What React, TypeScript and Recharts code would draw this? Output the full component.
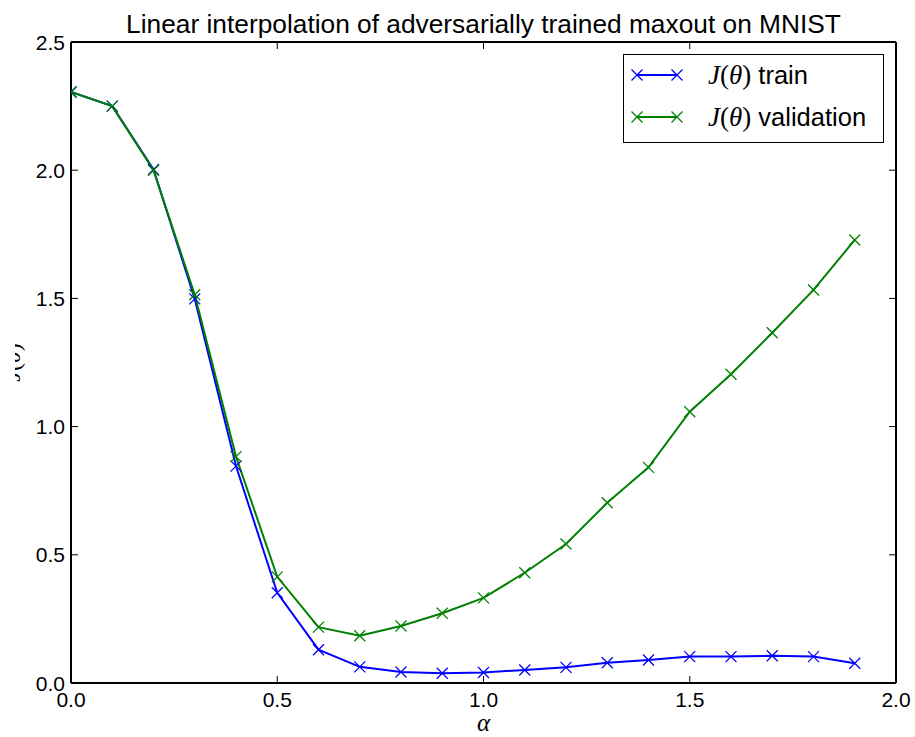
import React from 'react';
import { LineChart, Line, XAxis, YAxis, Legend, Label } from 'recharts';

const alphaValues = [0, 0.1, 0.2, 0.3, 0.4, 0.5, 0.6, 0.7, 0.8, 0.9, 1.0, 1.1, 1.2, 1.3, 1.4, 1.5, 1.6, 1.7, 1.8, 1.9];
const trainLoss = [2.305, 2.25, 2.003, 1.498, 0.846, 0.352, 0.13, 0.063, 0.043, 0.038, 0.041, 0.051, 0.061, 0.079, 0.09, 0.103, 0.103, 0.106, 0.103, 0.077];
const validationLoss = [2.305, 2.25, 2.0, 1.514, 0.883, 0.414, 0.218, 0.184, 0.222, 0.272, 0.332, 0.43, 0.542, 0.703, 0.841, 1.058, 1.204, 1.366, 1.533, 1.728];
const xTicks = [0, 0.5, 1.0, 1.5, 2.0];
const yTicks = [0, 0.5, 1.0, 1.5, 2.0, 2.5];
const seriesNames = ['train', 'validation'];
const seriesColors = ['#0000ff', '#008000'];
const titleText = 'Linear interpolation of adversarially trained maxout on MNIST';

const data = alphaValues.map((a, i) => ({ alpha: a, train: trainLoss[i], validation: validationLoss[i] }));

const SANS = '"Liberation Sans", Arial, Helvetica, sans-serif';
const SERIF = '"Liberation Serif", "DejaVu Serif", serif';

const makeCross = (color: string) => (props: any) => {
  const { cx, cy, index } = props;
  const k = `dot-${color}-${index}`;
  if (cx == null || cy == null) return <g key={k} />;
  const s = 5.5;
  return (
    <path
      key={k}
      d={`M${cx - s},${cy - s}L${cx + s},${cy + s}M${cx - s},${cy + s}L${cx + s},${cy - s}`}
      stroke={color}
      strokeWidth={1.3}
      fill="none"
    />
  );
};

const BottomTick = (props: any) => {
  const { x, y, payload } = props;
  return (
    <g>
      <line x1={x} x2={x} y1={y} y2={y - 7} stroke="#000" strokeWidth={1} />
      <text x={x} y={y + 24} textAnchor="middle" fontFamily={SANS} fontSize={21} fill="#000">
        {Number(payload.value).toFixed(1)}
      </text>
    </g>
  );
};

const TopTick = (props: any) => {
  const { x, y } = props;
  return <line x1={x} x2={x} y1={y} y2={y + 7} stroke="#000" strokeWidth={1} />;
};

const LeftTick = (props: any) => {
  const { x, y, payload } = props;
  return (
    <g>
      <line x1={x} x2={x + 7} y1={y} y2={y} stroke="#000" strokeWidth={1} />
      <text x={x - 6} y={y + 7.5} textAnchor="end" fontFamily={SANS} fontSize={21} fill="#000">
        {Number(payload.value).toFixed(1)}
      </text>
    </g>
  );
};

const RightTick = (props: any) => {
  const { x, y } = props;
  return <line x1={x} x2={x - 7} y1={y} y2={y} stroke="#000" strokeWidth={1} />;
};

const MathJ = () => (
  <>
    <tspan fontFamily={SERIF} fontStyle="italic">J</tspan>
    <tspan fontFamily={SERIF}>(</tspan>
    <tspan fontFamily={SERIF} fontStyle="italic">θ</tspan>
    <tspan fontFamily={SERIF}>)</tspan>
  </>
);

const TitleContent = (props: any) => {
  const vb = props.viewBox || { x: 71, y: 41, width: 825, height: 1 };
  const top = vb.y + (vb.height || 0);
  return (
    <text x={vb.x + vb.width / 2} y={top - 9.5} textAnchor="middle" fontFamily={SANS} fontSize={26.3} fill="#000">
      {titleText}
    </text>
  );
};

const XLabelContent = (props: any) => {
  const vb = props.viewBox || { x: 71, y: 683, width: 825 };
  return (
    <text x={vb.x + vb.width / 2} y={vb.y + 48} textAnchor="middle" fontFamily={SERIF} fontStyle="italic" fontSize={25} fill="#000">
      α
    </text>
  );
};

const YLabelContent = (props: any) => {
  const vb = props.viewBox || { x: 11, y: 42, width: 60, height: 641 };
  const cy = vb.y + vb.height / 2;
  const bx = 20;
  return (
    <g>
      <defs>
        <clipPath id="ylabel-clip">
          <rect x={15} y={0} width={60} height={737} />
        </clipPath>
      </defs>
      <g clipPath="url(#ylabel-clip)">
        <text x={bx} y={cy} transform={`rotate(-90 ${bx} ${cy})`} textAnchor="middle" fontSize={24} fill="#000">
          <MathJ />
        </text>
      </g>
    </g>
  );
};

const LegendBox = (props: any) => {
  const raw = props.payload && props.payload.length ? props.payload : seriesNames.map((n, i) => ({ value: n, color: seriesColors[i] }));
  const payload = raw.filter((p: any) => seriesNames.includes(p.value));
  return (
    <div
      style={{
        position: 'relative',
        width: 261,
        height: 89,
        boxSizing: 'border-box',
        border: '1.5px solid #000',
        background: '#fff',
      }}
    >
      {payload.map((p: any, i: number) => {
        const cy = 20 + i * 42;
        return (
          <div key={p.value} style={{ position: 'absolute', left: 0, top: cy - 15, height: 30, width: 258 }}>
            <svg width={60} height={30} style={{ position: 'absolute', left: 0, top: 0 }}>
              <line x1={13} x2={53} y1={15} y2={15} stroke={p.color} strokeWidth={2} />
              {[13, 53].map((mx) => (
                <path key={mx} d={`M${mx - 5.5},${9.5}L${mx + 5.5},${20.5}M${mx - 5.5},${20.5}L${mx + 5.5},${9.5}`} stroke={p.color} strokeWidth={1.3} fill="none" />
              ))}
            </svg>
            <div style={{ position: 'absolute', left: 84, top: 0, height: 30, lineHeight: '30px', fontSize: 25.5, fontFamily: SANS, whiteSpace: 'nowrap', color: '#000' }}>
              <span style={{ fontFamily: SERIF, fontSize: 27 }}><i>J</i>(<i>θ</i>)</span>{' '}{p.value}
            </div>
          </div>
        );
      })}
    </div>
  );
};

export default function App() {
  return (
    <div style={{ position: 'absolute', left: 0, top: 0, width: 915, height: 737, background: '#fff' }}>
      <LineChart width={915} height={737} data={data} margin={{ top: 41, right: 18, bottom: 24, left: 11 }}>
        <XAxis
          xAxisId="bottom"
          dataKey="alpha"
          type="number"
          domain={[0, 2]}
          ticks={xTicks}
          allowDataOverflow
          orientation="bottom"
          height={30}
          tickSize={0}
          tickMargin={0}
          tickLine={false}
          axisLine={{ stroke: '#000', strokeWidth: 2 }}
          tick={<BottomTick />}
          interval={0}
        >
          <Label content={XLabelContent} />
        </XAxis>
        <XAxis
          xAxisId="top"
          dataKey="alpha"
          type="number"
          domain={[0, 2]}
          ticks={xTicks}
          allowDataOverflow
          orientation="top"
          height={1}
          tickSize={0}
          tickMargin={0}
          tickLine={false}
          axisLine={{ stroke: '#000', strokeWidth: 2 }}
          tick={<TopTick />}
          interval={0}
        >
          <Label content={TitleContent} />
        </XAxis>
        <YAxis
          yAxisId="left"
          type="number"
          domain={[0, 2.5]}
          ticks={yTicks}
          allowDataOverflow
          orientation="left"
          width={60}
          tickSize={0}
          tickMargin={0}
          tickLine={false}
          axisLine={{ stroke: '#000', strokeWidth: 2 }}
          tick={<LeftTick />}
          interval={0}
        >
          <Label content={YLabelContent} />
        </YAxis>
        <YAxis
          yAxisId="right"
          type="number"
          domain={[0, 2.5]}
          ticks={yTicks}
          allowDataOverflow
          orientation="right"
          width={1}
          tickSize={0}
          tickMargin={0}
          tickLine={false}
          axisLine={{ stroke: '#000', strokeWidth: 2 }}
          tick={<RightTick />}
          interval={0}
        />
        <Line
          xAxisId="top"
          yAxisId="right"
          type="linear"
          dataKey="validation"
          name="frame"
          stroke="none"
          strokeWidth={0}
          dot={false}
          activeDot={false}
          legendType="none"
          isAnimationActive={false}
        />
        <Line
          xAxisId="bottom"
          yAxisId="left"
          type="linear"
          dataKey="train"
          name={seriesNames[0]}
          stroke={seriesColors[0]}
          strokeWidth={2}
          dot={makeCross(seriesColors[0])}
          activeDot={false}
          isAnimationActive={false}
        />
        <Line
          xAxisId="bottom"
          yAxisId="left"
          type="linear"
          dataKey="validation"
          name={seriesNames[1]}
          stroke={seriesColors[1]}
          strokeWidth={2}
          dot={makeCross(seriesColors[1])}
          activeDot={false}
          isAnimationActive={false}
        />
        <Legend
          layout="vertical"
          align="center"
          verticalAlign="middle"
          wrapperStyle={{ left: 623, top: 54, width: 261, height: 89 }}
          content={LegendBox}
        />
      </LineChart>
    </div>
  );
}
